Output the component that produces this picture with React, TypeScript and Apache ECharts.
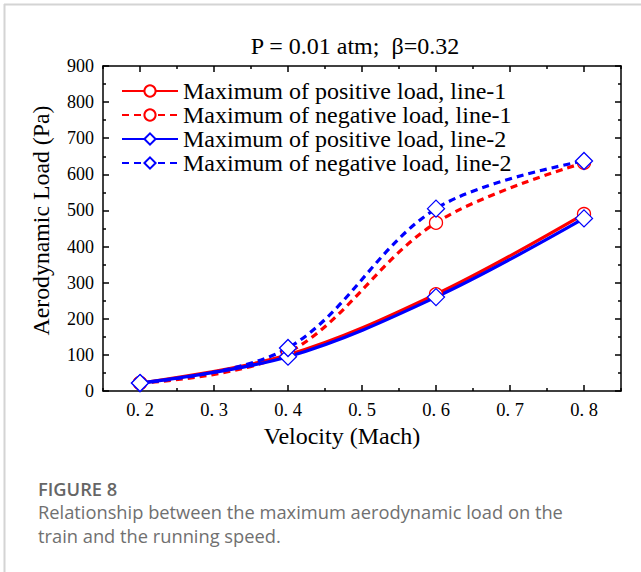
import React, { useEffect, useRef } from "react";
import * as echarts from "echarts";

const velocity = [0.2, 0.4, 0.6, 0.8];
const posLine1 = [22, 100, 268, 490];
const negLine1 = [22, 106, 466, 632];
const posLine2 = [22, 95, 260, 478];
const negLine2 = [22, 119, 505, 637];

const seriesNames = [
  "Maximum of positive load, line-1",
  "Maximum of negative load, line-1",
  "Maximum of positive load, line-2",
  "Maximum of negative load, line-2",
];

const xMajorTicks = [0.2, 0.3, 0.4, 0.5, 0.6, 0.7, 0.8];
const xMinorTicks = [0.15, 0.25, 0.35, 0.45, 0.55, 0.65, 0.75, 0.85];

const titleText = "P = 0.01 atm;  \u03b2=0.32";
const captionTitle = "FIGURE 8";
const captionLines = [
  "Relationship between the maximum aerodynamic load on the",
  "train and the running speed.",
];

const SERIF = "'Liberation Serif', 'DejaVu Serif', serif";
const SANS = "'Open Sans', 'Noto Sans', sans-serif";

const fmtX = (v: number) => v.toFixed(1).replace(".", ". ");

export default function App() {
  const ref = useRef<HTMLDivElement>(null);
  useEffect(() => {
    if (!ref.current) return;
    const chart = echarts.init(ref.current, undefined, { renderer: "svg" });

    const mk = (vals: number[]) => velocity.map((v, i) => [v, vals[i]]);

    const baseX = (pos: "top" | "bottom", ticks: number[], len: number, labels: boolean, line: boolean) => ({
      type: "value",
      min: 0.15,
      max: 0.85,
      position: pos,
      gridIndex: 0,
      axisLine: { show: line, onZero: false, lineStyle: { color: "#000", width: 1.5 } },
      axisTick: {
        show: true,
        inside: true,
        length: len,
        customValues: ticks,
        lineStyle: { color: "#000", width: 1.5 },
      },
      axisLabel: labels
        ? {
            show: true,
            customValues: xMajorTicks,
            formatter: (v: number) => fmtX(v),
            fontFamily: SERIF,
            fontSize: 18.5,
            color: "#000",
            margin: 9,
          }
        : { show: false },
      splitLine: { show: false },
    });

    const mkSeries = (name: string, vals: number[], color: string, dashed: boolean, diamond: boolean) => ({
      name,
      type: "line",
      data: mk(vals),
      smooth: 0.35,
      symbol: diamond ? "diamond" : "circle",
      symbolSize: diamond ? 17 : 13,
      color,
      lineStyle: { color, width: 3.2, type: dashed ? [7, 5] : "solid" },
      itemStyle: { color: "#fff", borderColor: color, borderWidth: 1.3 },
    });

    const option: any = {
      animation: false,
      backgroundColor: "#fff",
      grid: { left: 103, right: 20, top: 66, bottom: 181, containLabel: false },
      xAxis: [
        {
          ...baseX("bottom", xMajorTicks, 6, true, true),
          name: "Velocity (Mach)",
          nameLocation: "middle",
          nameGap: 32,
          nameTextStyle: { fontFamily: SERIF, fontSize: 24, color: "#000", padding: [0, 40, 0, 0] },
        },
        baseX("bottom", xMinorTicks, 3, false, false),
        baseX("top", xMajorTicks, 6, false, true),
        baseX("top", xMinorTicks, 3, false, false),
      ],
      yAxis: [
        {
          type: "value",
          min: 0,
          max: 900,
          interval: 100,
          position: "left",
          name: "Aerodynamic Load (Pa)",
          nameLocation: "middle",
          nameGap: 50,
          nameTextStyle: { fontFamily: SERIF, fontSize: 23.8, color: "#000", padding: [0, 0, 0, 16] },
          axisLine: { show: true, onZero: false, lineStyle: { color: "#000", width: 1.5 } },
          axisTick: { show: true, inside: true, length: 6, lineStyle: { color: "#000", width: 1.5 } },
          minorTick: { show: true, splitNumber: 2, length: 3, lineStyle: { color: "#000", width: 1.5 } },
          axisLabel: { fontFamily: SERIF, fontSize: 18, color: "#000", margin: 9 },
          splitLine: { show: false },
          minorSplitLine: { show: false },
        },
        {
          type: "value",
          min: 0,
          max: 900,
          interval: 100,
          position: "right",
          axisLine: { show: true, onZero: false, lineStyle: { color: "#000", width: 1.5 } },
          axisTick: { show: true, inside: true, length: 6, lineStyle: { color: "#000", width: 1.5 } },
          minorTick: { show: true, splitNumber: 2, length: 3, lineStyle: { color: "#000", width: 1.5 } },
          axisLabel: { show: false },
          splitLine: { show: false },
          minorSplitLine: { show: false },
        },
      ],
      legend: {
        orient: "vertical",
        left: 116,
        top: 74,
        itemWidth: 56,
        itemHeight: 14,
        itemGap: 0,
        data: seriesNames,
        textStyle: { fontFamily: SERIF, fontSize: 24, color: "#000" },
      },
      series: [
        mkSeries(seriesNames[0], posLine1, "#ff0000", false, false),
        mkSeries(seriesNames[1], negLine1, "#ff0000", true, false),
        mkSeries(seriesNames[2], posLine2, "#0000ff", false, true),
        mkSeries(seriesNames[3], negLine2, "#0000ff", true, true),
      ],
      graphic: [
        {
          type: "line",
          shape: { x1: 4, y1: 4.5, x2: 641, y2: 4.5 },
          style: { stroke: "#d4d4d4", lineWidth: 2 },
        },
        {
          type: "line",
          shape: { x1: 4.5, y1: 4, x2: 4.5, y2: 572 },
          style: { stroke: "#d4d4d4", lineWidth: 2 },
        },
        {
          type: "text",
          x: 355,
          y: 46,
          style: {
            text: titleText,
            fontFamily: SERIF,
            fontSize: 24,
            fill: "#000",
            textAlign: "center",
            textVerticalAlign: "middle",
          },
        },
        {
          type: "text",
          x: 38,
          y: 488,
          style: {
            text: captionTitle,
            fontFamily: SANS,
            fontSize: 18.3,
            lineHeight: 20,
            fontWeight: 600,
            fill: "#666",
            textAlign: "left",
            textVerticalAlign: "middle",
          },
        },
        ...captionLines.map((t, i) => ({
          type: "text",
          x: 38,
          y: 511 + i * 24,
          style: {
            text: t,
            fontFamily: SANS,
            fontSize: 18.3,
            lineHeight: 20,
            fill: "#707070",
            textAlign: "left",
            textVerticalAlign: "middle",
          },
        })),
      ],
    };

    chart.setOption(option);
    return () => chart.dispose();
  }, []);

  return (
    <div
      ref={ref}
      style={{ position: "fixed", left: 0, top: 0, width: 641, height: 572 }}
    />
  );
}
